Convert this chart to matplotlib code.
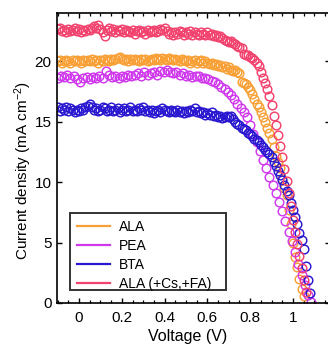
import numpy as np
import matplotlib
matplotlib.use("Agg")
import matplotlib.pyplot as plt
from matplotlib.ticker import MultipleLocator
from matplotlib.patches import Rectangle

plt.rcParams['font.family'] = ['Liberation Sans', 'DejaVu Sans']
plt.rcParams['mathtext.fontset'] = 'custom'
plt.rcParams['mathtext.rm'] = 'Liberation Sans'
plt.rcParams['mathtext.it'] = 'Liberation Sans:italic'

# ---------------- data ----------------
labels = ["ALA", "PEA", "BTA", "ALA (+Cs,+FA)"]
colors = ["#F8A036", "#CF38EC", "#2A18D0", "#F2426E"]

# voltage sweeps (V)
v_ala = np.round(np.arange(-0.10, 1.0501, 0.01), 3)
v_pea = np.round(np.arange(-0.10, 1.0851, 0.015), 3)
v_bta = np.round(np.arange(-0.10, 1.0801, 0.01), 3)
v_alacs = np.round(np.arange(-0.10, 1.0601, 0.01), 3)

# current density (mA cm^-2)
j_ala = [
    20.0, 20.1, 19.9, 20.0, 20.1, 20.0, 19.9, 20.1, 20.0, 20.1,
    20.0, 19.9, 20.1, 20.0, 20.1, 20.0, 20.2, 20.0, 20.1, 19.9,
    20.1, 20.0, 20.2, 20.1, 20.0, 20.2, 20.1, 20.2, 20.3, 20.4,
    20.2, 20.1, 20.2, 20.0, 20.2, 20.1, 20.2, 20.1, 20.0, 20.2,
    20.1, 20.2, 20.0, 20.1, 20.2, 20.1, 20.3, 20.2, 20.1, 20.3,
    20.2, 20.1, 20.3, 20.2, 20.1, 20.2, 20.1, 20.0, 20.2, 20.1,
    20.0, 20.1, 19.9, 20.0, 20.1, 19.9, 20.0, 20.1, 19.9, 20.0,
    19.9, 19.8, 19.9, 19.7, 19.8, 19.6, 19.7, 19.5, 19.6, 19.4,
    19.5, 19.3, 19.2, 19.3, 19.1, 19.0, 18.3, 18.2, 18.1, 17.9,
    17.6, 17.3, 16.9, 16.5, 16.2, 15.8, 15.4, 15.0, 14.5, 14.1,
    13.6, 12.9, 12.2, 11.7, 11.2, 10.3, 9.5, 8.9, 7.7, 6.5,
    5.0, 3.8, 3.0, 2.0, 1.2, 0.6,
]
j_pea = [
    18.6, 18.8, 18.7, 18.9, 18.6, 18.8, 18.5, 18.3, 18.6, 18.7,
    18.5, 18.7, 18.6, 18.8, 18.6, 19.2, 18.9, 18.7, 18.8, 18.6,
    18.8, 18.7, 18.9, 18.8, 18.9, 19.0, 18.8, 19.1, 18.9, 19.0,
    19.1, 18.9, 19.2, 19.1, 19.3, 19.1, 19.0, 19.1, 18.9, 19.0,
    18.8, 18.9, 18.7, 18.8, 18.8, 18.6, 18.6, 18.5, 18.4, 18.3,
    18.1, 17.9, 17.7, 17.5, 17.2, 16.9, 16.5, 16.1, 15.8, 15.4,
    14.7, 14.0, 13.3, 12.6, 11.8, 11.2, 10.4, 9.8, 9.1, 8.4,
    7.6, 6.8, 5.9, 5.1, 4.2, 3.2, 2.3, 1.5, 0.7, 0.1,
]
j_bta = [
    16.2, 15.9, 16.1, 16.0, 16.2, 15.9, 16.1, 16.0, 15.8, 16.0,
    15.9, 16.1, 16.0, 16.2, 16.3, 16.5, 16.2, 16.0, 16.1, 15.9,
    16.0, 16.2, 16.1, 15.9, 16.0, 16.2, 15.9, 16.0, 16.1, 15.8,
    16.0, 16.1, 15.9, 16.0, 16.2, 15.9, 16.0, 15.9, 16.1, 16.0,
    16.2, 15.9, 16.0, 15.8, 16.0, 15.7, 15.9, 16.0, 15.8, 16.1,
    16.0, 15.9, 15.8, 16.0, 15.9, 15.8, 16.0, 15.8, 15.9, 15.7,
    15.9, 15.8, 16.0, 15.9, 16.1, 15.8, 15.9, 15.7, 15.8, 15.6,
    15.7, 15.6, 15.8, 15.5, 15.6, 15.4, 15.5, 15.3, 15.4, 15.5,
    15.4, 15.5, 15.2, 15.0, 14.8, 14.7, 14.5, 14.4, 14.3, 14.1,
    14.0, 13.8, 13.6, 13.5, 13.3, 13.1, 12.9, 12.7, 12.5, 12.3,
    12.1, 11.7, 11.3, 10.9, 10.6, 10.2, 9.8, 9.3, 8.9, 8.3,
    7.7, 7.1, 6.5, 5.8, 5.2, 4.5, 3.1, 1.9, 0.8,
]
j_alacs = [
    22.7, 22.8, 22.5, 22.6, 22.4, 22.7, 22.5, 22.6, 22.8, 22.5,
    22.7, 22.4, 22.6, 22.5, 22.7, 22.6, 22.8, 22.9, 22.8, 23.0,
    22.7, 22.4, 22.1, 22.6, 22.8, 22.5, 22.7, 22.4, 22.6, 22.5,
    22.7, 22.4, 22.6, 22.5, 22.4, 22.6, 22.3, 22.5, 22.6, 22.4,
    22.5, 22.3, 22.6, 22.4, 22.5, 22.6, 22.4, 22.5, 22.7, 22.6,
    22.8, 22.5, 22.3, 22.4, 22.2, 22.4, 22.3, 22.5, 22.4, 22.2,
    22.4, 22.3, 22.5, 22.2, 22.4, 22.3, 22.2, 22.4, 22.3, 22.2,
    22.4, 22.2, 22.3, 22.1, 22.2, 22.0, 22.1, 21.9, 21.8, 21.7,
    21.6, 21.7, 21.5, 21.4, 21.3, 21.2, 21.1, 20.6, 20.5, 20.5,
    20.4, 20.3, 20.1, 19.9, 19.6, 19.1, 18.6, 18.2, 17.7, 17.1,
    16.4, 15.5, 14.7, 13.9, 13.0, 12.1, 11.1, 10.1, 9.1, 8.0,
    6.9, 5.9, 4.9, 3.9, 2.9, 1.9, 0.9,
]

x_ticks = [0, 0.2, 0.4, 0.6, 0.8, 1]
x_ticklabels = ["0", "0.2", "0.4", "0.6", "0.8", "1"]
y_ticks = [0, 5, 10, 15, 20]

# ---------------- figure ----------------
W, H = 328, 347
fig = plt.figure(figsize=(W / 100, H / 100), dpi=100)
ax_l, ax_r, ax_t, ax_b = 57, 330, 13, 303
ax = fig.add_axes([ax_l / W, (H - ax_b) / H, (ax_r - ax_l) / W, (ax_b - ax_t) / H])

series = [(v_ala, j_ala), (v_pea, j_pea), (v_bta, j_bta), (v_alacs, j_alacs)]
for (v, j), c in zip(series, colors):
    ax.plot(v, j, linestyle='none', marker='o', markersize=6.2,
            markerfacecolor='none', markeredgecolor=c, markeredgewidth=1.05)

def ax_frac_x(px):
    return (px - ax_l) / (ax_r - ax_l)

def ax_frac_y(py):
    return (ax_b - py) / (ax_b - ax_t)

# legend frame drawn as its own rectangle
bx0, bx1, by0, by1 = 70, 226, 213, 290
ax.add_patch(Rectangle((ax_frac_x(bx0), ax_frac_y(by1)),
                       ax_frac_x(bx1) - ax_frac_x(bx0),
                       ax_frac_y(by0) - ax_frac_y(by1),
                       transform=ax.transAxes, fill=True, facecolor='white',
                       edgecolor='#333333', linewidth=1.4, zorder=5))

handles = [plt.Line2D([], [], color=c, lw=1.6) for c in colors]
leg = ax.legend(handles, labels, loc='lower left',
                bbox_to_anchor=(ax_frac_x(77), ax_frac_y(291)),
                borderaxespad=0, fontsize=10, frameon=False,
                handlelength=2.4, handletextpad=0.6, labelspacing=0.36,
                borderpad=0.0)
leg.set_zorder(6)

ax.set_xlim(-0.103, 1.173)
ax.set_ylim(0, 24)
ax.set_xticks(x_ticks)
ax.set_xticklabels(x_ticklabels)
ax.set_yticks(y_ticks)
ax.xaxis.set_minor_locator(MultipleLocator(0.05))
ax.tick_params(axis='both', which='major', direction='in', length=3.8, width=1.0,
               top=True, right=True, labelsize=11)
ax.tick_params(axis='x', which='major', pad=6)
ax.tick_params(axis='y', which='major', pad=4)
ax.tick_params(axis='x', which='minor', direction='in', length=2.2, width=0.9, top=True)
for s in ax.spines.values():
    s.set_linewidth(1.2)

ax.set_xlabel("Voltage (V)", fontsize=11.5)
ax.set_ylabel("Current density (mA cm$^{-2}$)", fontsize=11)
ax.xaxis.set_label_coords(ax_frac_x(188), ax_frac_y(329))
ax.yaxis.set_label_coords(ax_frac_x(34), ax_frac_y(170))

fig.savefig("out.png", dpi=100)
